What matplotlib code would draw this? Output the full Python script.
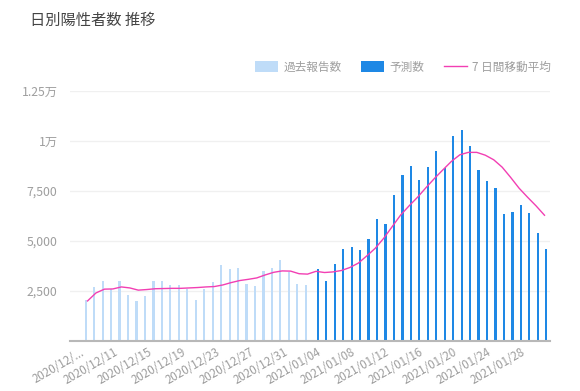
import numpy as np
import pandas as pd
import matplotlib
matplotlib.use("Agg")
import matplotlib.pyplot as plt
from matplotlib.patches import Patch
from matplotlib.lines import Line2D

plt.rcParams['font.family'] = ['Noto Sans CJK JP', 'DejaVu Sans']

# categories: one per day
dates = pd.date_range("2020-12-07", "2021-01-30", freq="D")
date_labels = [d.strftime("%Y/%m/%d") for d in dates]
date_labels[0] = "2020/12/..."

# past reported counts (2020/12/07 - 2021/01/02)
past = [2050, 2720, 2980, 2590, 3020, 2280, 1990, 2230, 3020, 3020,
        2820, 2820, 2590, 2050, 2600, 2970, 3800, 3600, 3660, 2870,
        2770, 3520, 3660, 4050, 3450, 2870, 2820]
# forecast counts (2021/01/03 - 2021/01/30)
forecast = [3600, 3020, 3860, 4580, 4680, 4550, 5080, 6110, 5860, 7270,
            8310, 8750, 8040, 8700, 9490, 8650, 10220, 10530, 9730, 8520,
            7980, 7630, 6360, 6460, 6790, 6400, 5380, 4600]
# 7 day moving average
ma7 = [2000, 2400, 2590, 2600, 2700, 2650, 2540, 2570, 2610, 2620,
       2630, 2630, 2650, 2670, 2700, 2720, 2800, 2920, 3020, 3080,
       3150, 3300, 3430, 3500, 3490, 3360, 3340, 3480, 3420, 3450,
       3520, 3670, 3890, 4250, 4630, 5130, 5710, 6290, 6750, 7180,
       7660, 8120, 8550, 8970, 9300, 9420, 9420, 9280, 9050, 8680,
       8170, 7630, 7180, 6750, 6280]

yticks = [2500, 5000, 7500, 10000, 12500]
ytick_labels = ["2,500", "5,000", "7,500", "1万", "1.25万"]

light = "#bfdcf8"
dark = "#1e88e5"
pink = "#f23fb3"
gray_txt = "#9e9e9e"

fig = plt.figure(figsize=(5.8, 3.91), dpi=100)
ax = fig.add_axes([70/580, 1-341/391, 480/580, (341-90.7)/391])

x = np.arange(len(dates))
off = 0.21
w = 0.26
ax.bar(x[:len(past)] - off, past, width=w, color=light, zorder=2)
ax.bar(x[len(past):] + off, forecast, width=w, color=dark, zorder=2)
ax.plot(x, ma7, color=pink, lw=1.0, zorder=3)

ax.set_ylim(0, 12500)
ax.set_xlim(-2.07, 54.65)
ax.set_yticks(yticks)
ax.set_yticklabels(ytick_labels)
ax.grid(axis='y', color='#f0f0f0', lw=1.0, zorder=0)
ax.set_axisbelow(True)

# labels end a little left of their day (ticks are hidden)
ax.set_xticks(x[::4] - 0.85)
ax.set_xticklabels(date_labels[::4], rotation=30, ha='right', va='top',
                   rotation_mode='anchor')

ax.tick_params(axis='both', length=0, labelcolor=gray_txt)
ax.tick_params(axis='x', pad=3.5, labelsize=8.3)
ax.tick_params(axis='y', pad=9, labelsize=8.8)
for s in ['top', 'right', 'left']:
    ax.spines[s].set_visible(False)
ax.spines['bottom'].set_color('#b8b8b8')
ax.spines['bottom'].set_linewidth(1.5)

fig.text(30/580, 1-20/391, "日別陽性者数 推移", fontsize=11, color='#444444',
         va='center', ha='left')

handles = [Patch(facecolor=light, edgecolor='none'),
           Patch(facecolor=dark, edgecolor='none'),
           Line2D([0], [0], color=pink, lw=1.0)]
fig.legend(handles, ["過去報告数", "予測数", "7 日間移動平均"],
           loc='center right', bbox_to_anchor=(551/580, 1-67/391),
           ncol=3, frameon=False, fontsize=8.4, labelcolor=gray_txt,
           handlelength=1.97, handleheight=0.95, handletextpad=0.43,
           columnspacing=1.71, borderaxespad=0, borderpad=0)

fig.savefig("out.png", dpi=100)
